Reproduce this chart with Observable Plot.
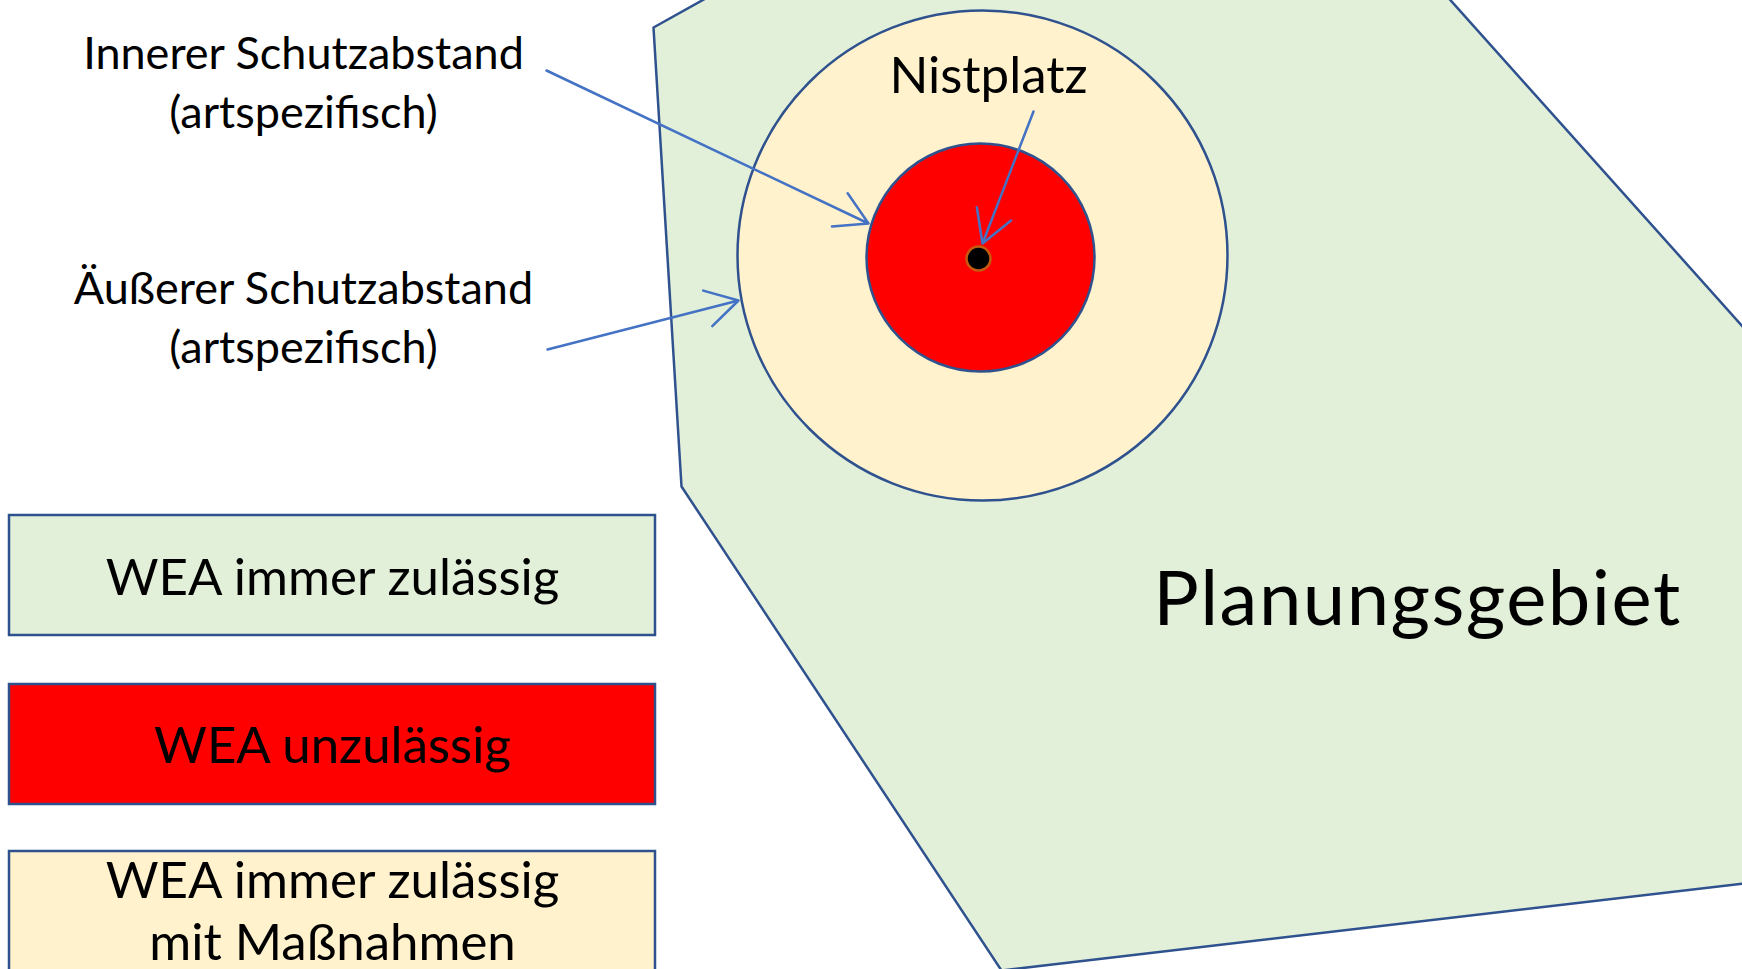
<!DOCTYPE html>
<html>
<head>
<meta charset="utf-8">
<script src="https://cdn.jsdelivr.net/npm/d3@7"></script>
<script src="https://cdn.jsdelivr.net/npm/@observablehq/plot@0.6"></script>
<style>
  html, body { margin: 0; padding: 0; background: #ffffff; }
  #chart svg { display: block; }
</style>
</head>
<body>
<div id="chart"></div>
<script>
// Planning area outline (Planungsgebiet), in picture coordinates
const areaX = [653, 714, 1444, 1752, 1752, 1001, 681];
const areaY = [27, -7, -7, 337, 882, 970, 486];

// Protection zones around the nest
const zoneNames = ["Äußerer Schutzabstand", "Innerer Schutzabstand", "Nistplatz"];
const zoneX = [982, 980, 978];
const zoneY = [255, 257, 258];
const zoneR = [245, 114, 12];
const zoneFill = ["#FFF2CC", "#FF0000", "#000000"];
const zoneStroke = ["#2F528F", "#2F528F", "#C55A11"];

// Legend boxes
const legendLabels = ["WEA immer zulässig", "WEA unzulässig", "WEA immer zulässig\nmit Maßnahmen"];
const legendTop = [515, 684, 851];
const legendBottom = [635, 804, 990];
const legendFill = ["#E2F0D9", "#FF0000", "#FFF2CC"];
const legendTextY = [575, 743, 909];

// Annotations
const noteLabels = ["Innerer Schutzabstand\n(artspezifisch)", "Äußerer Schutzabstand\n(artspezifisch)", "Nistplatz"];
const noteX = [303, 303, 988];
const noteY = [79, 314, 71];
const noteSize = [45, 45, 51];

// Arrows from the annotations
const arrowX1 = [546, 547, 1033];
const arrowY1 = [70, 349, 111];
const arrowX2 = [868, 738, 982];
const arrowY2 = [223, 300, 243];

const areaPts = areaX.map((x, i) => ({x, y: areaY[i]}));
const zones = zoneNames.map((n, i) => ({n, x: zoneX[i], y: zoneY[i], r: zoneR[i], fill: zoneFill[i], stroke: zoneStroke[i]}));
const legend = legendLabels.map((t, i) => ({t, y1: legendTop[i], y2: legendBottom[i], fill: legendFill[i], ty: legendTextY[i]}));
const notes = noteLabels.map((t, i) => ({t, x: noteX[i], y: noteY[i], s: noteSize[i]}));
const arrows = arrowX1.map((x1, i) => ({x1, y1: arrowY1[i], x2: arrowX2[i], y2: arrowY2[i]}));

const font = "Lato, 'Open Sans', sans-serif";

const plot = Plot.plot({
  width: 1742,
  height: 969,
  margin: 0,
  style: {background: "#ffffff", overflow: "hidden"},
  x: {domain: [0, 1742], range: [0, 1742], axis: null},
  y: {domain: [0, 969], range: [0, 969], axis: null},
  r: {type: "identity"},
  marks: [
    Plot.line(areaPts, {x: "x", y: "y", curve: "linear-closed", fill: "#E2F0D9", stroke: "#2F528F", strokeWidth: 2.5, clip: true}),
    Plot.dot(zones.slice(0, 2), {x: "x", y: "y", r: "r", fill: d => d.fill, stroke: d => d.stroke, strokeWidth: 2.5, fillOpacity: 1}),
    Plot.dot(zones.slice(2), {x: "x", y: "y", r: "r", fill: d => d.fill, stroke: d => d.stroke, strokeWidth: 2.5, fillOpacity: 1}),
    Plot.rect(legend, {x1: 9, x2: 655, y1: "y1", y2: "y2", fill: d => d.fill, stroke: "#2F528F", strokeWidth: 2.5, clip: true}),
    Plot.text(legend, {x: 332, y: "ty", text: "t", fontSize: 51, lineHeight: 1.2, fontFamily: font, fill: "#000000"}),
    Plot.text(notes, {x: "x", y: "y", text: "t", fontSize: d => d.s, lineHeight: 1.31, fontFamily: font, fill: "#000000"}),
    Plot.text(["Planungsgebiet"], {x: 1417, y: 600, text: d => d, fontSize: 76, fontFamily: font, fill: "#000000"}),
    Plot.arrow(arrows, {x1: "x1", y1: "y1", x2: "x2", y2: "y2", stroke: "#4472C4", strokeWidth: 2.5, headLength: 22, headAngle: 60, bend: 0})
  ]
});
d3.select(plot).selectAll("text").filter(function() { return this.textContent === "Planungsgebiet"; })
  .attr("letter-spacing", "1.5px");
document.getElementById("chart").appendChild(plot);
</script>
</body>
</html>
